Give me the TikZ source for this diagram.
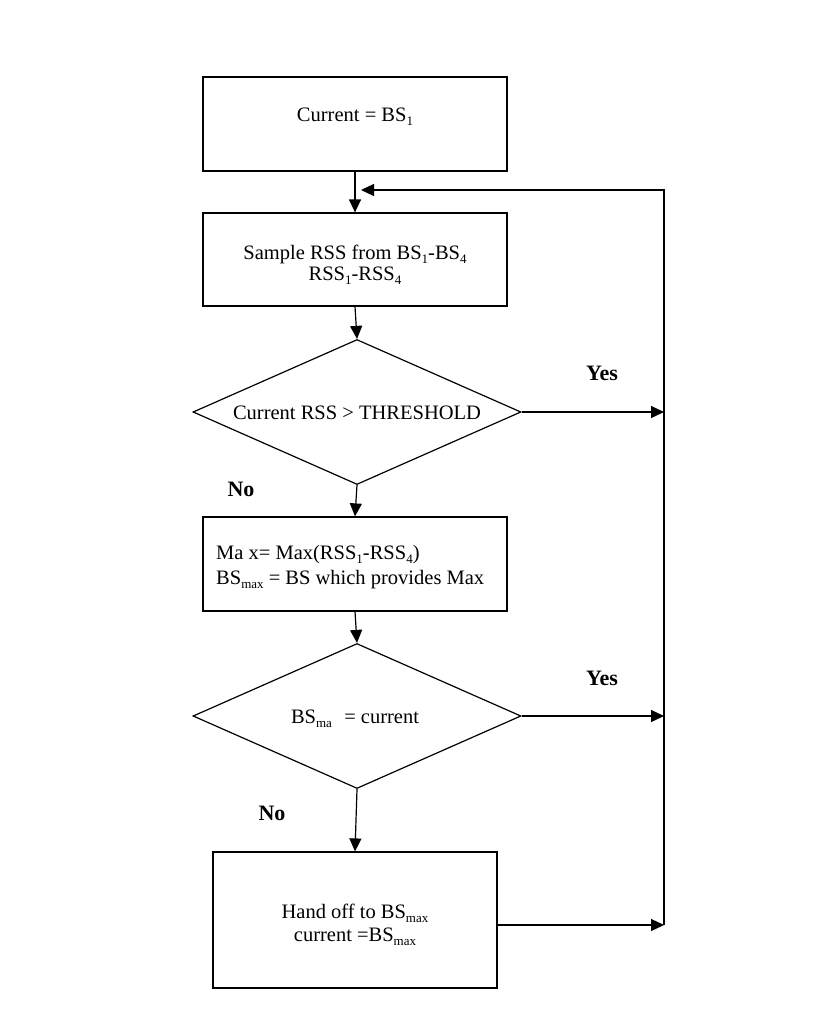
\documentclass[tikz,border=0pt]{standalone}
\usepackage{fontspec}
\setmainfont{Liberation Serif}
\usetikzlibrary{shapes.geometric,arrows.meta}
% lowered small index, as in BS_1
\newcommand\lowidx[1]{\raisebox{-4.5pt}{\fontsize{13}{13}\selectfont #1}}
\begin{document}
\begin{tikzpicture}[x=1pt,y=-1pt,
  proc/.style={draw, line width=1.2pt, rectangle, inner sep=0pt},
  test/.style={draw, line width=1.2pt, diamond, inner sep=0pt,
               minimum width=328pt, minimum height=145pt, aspect=2.26},
  txt/.style={inner sep=0pt, anchor=base, font=\fontsize{20.5}{24}\selectfont},
  ans/.style={inner sep=0pt, anchor=base, font=\fontsize{22}{26}\selectfont\bfseries},
  flow/.style={line width=1.2pt, -{Triangle[length=13pt,width=12pt]}}]
\useasboundingbox (0,0) rectangle (812,1026);

% process boxes and decisions
\node[proc, minimum width=304pt, minimum height=94pt] (b1) at (355,124) {};
\node[txt] (t1) at (355,121) {Current = BS\lowidx{1}};

\node[proc, minimum width=304pt, minimum height=93pt] (b2) at (355,259.5) {};
\node[txt] (t2a) at (355,259) {Sample RSS from BS\lowidx{1}-BS\lowidx{4}};
\node[txt] (t2b) at (355,280) {RSS\lowidx{1}-RSS\lowidx{4}};

\node[test] (d1) at (357,412) {};
\node[txt] (t3) at (357,419) {Current RSS > THRESHOLD};
\node[ans] (y1) at (602,380) {Yes};
\node[ans] (n1) at (241,496) {No};

\node[proc, minimum width=304pt, minimum height=94pt] (b3) at (355,564) {};
\node[txt, anchor=base west] (t4a) at (216,559) {Ma x= Max(RSS\lowidx{1}-RSS\lowidx{4})};
\node[txt, anchor=base west] (t4b) at (216,584) {BS\lowidx{max} = BS which provides Max};

\node[test] (d2) at (357,716) {};
\node[txt] (t5) at (355,723) {BS\lowidx{ma}\hspace{0.6em}= current};
\node[ans] (y2) at (602,685) {Yes};
\node[ans] (n2) at (272,820) {No};

\node[proc, minimum width=284pt, minimum height=136pt] (b4) at (355,920) {};
\node[txt] (t6a) at (355,918) {Hand off to BS\lowidx{max}};
\node[txt] (t6b) at (355,941) {current =BS\lowidx{max}};

% return bus on the right
\coordinate (j1) at (664,412);
\coordinate (j2) at (664,716);
\coordinate (j3) at (664,925);
\coordinate (top) at (664,190);
\coordinate (fb) at (361,190);

% connectors
\draw[flow] (b1.south) -- (b2.north);
\draw[flow] (b2.south) -- (d1.north);
\draw[flow] (d1.south) -- (b3.north);
\draw[flow] (b3.south) -- (d2.north);
\draw[flow] (d2.south) -- (b4.north);
\draw[flow] (d1.east) -- (j1);
\draw[flow] (d2.east) -- (j2);
\draw[flow] (b4.east |- j3) -- (j3);
\draw[flow] (j3) -- (top) -- (fb);
\end{tikzpicture}
\end{document}
